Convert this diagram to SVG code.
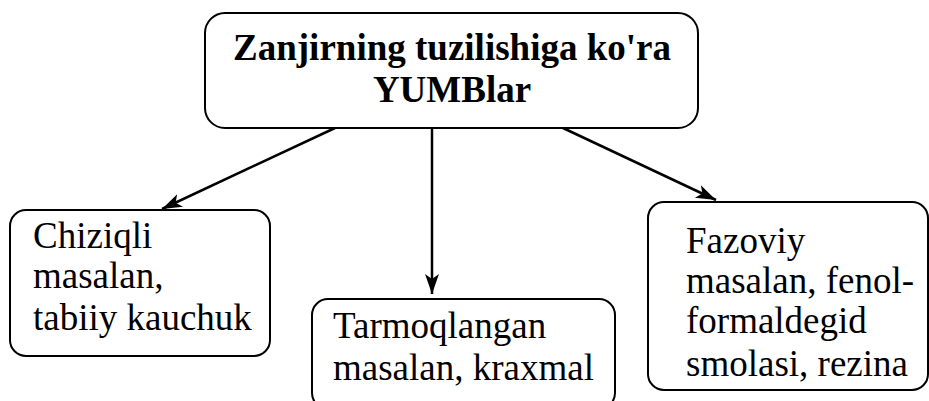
<svg xmlns="http://www.w3.org/2000/svg" width="929" height="401" viewBox="0 0 929 401">
  <style>
    .box { fill: #ffffff; stroke: #000000; stroke-width: 2; }
    .link { fill: none; stroke: #000000; stroke-width: 2.5; marker-end: url(#head); }
    svg g text.yumb-head { font-family: 'Liberation Serif', 'Times New Roman', serif !important; font-size: 37px; font-weight: bold; fill: #000; text-anchor: middle; }
    svg g text.yumb-text { font-family: 'Liberation Serif', 'Times New Roman', serif !important; font-size: 37px; font-weight: normal; fill: #000; }
  </style>
  <defs>
    <marker id="head" markerUnits="userSpaceOnUse" markerWidth="22" markerHeight="16" refX="20" refY="7" orient="auto">
      <path d="M0,0 L20,7 L0,14 L5,7 Z" fill="#000000"/>
    </marker>
  </defs>
  <rect width="929" height="401" fill="#ffffff"/>

  <!-- connectors -->
  <g id="connectors">
    <line class="link" x1="335" y1="128" x2="162" y2="209"/>
    <line class="link" x1="432" y1="128" x2="432" y2="294"/>
    <line class="link" x1="563" y1="128" x2="716" y2="200"/>
  </g>

  <!-- root node -->
  <g id="root">
    <rect class="box" x="205" y="13" width="493" height="115" rx="20" ry="20"/>
    <text class="yumb-head" x="452" y="60" style="font-family:'Liberation Serif', serif">Zanjirning tuzilishiga ko'ra</text>
    <text class="yumb-head" x="452" y="102" style="font-family:'Liberation Serif', serif">YUMBlar</text>
  </g>

  <!-- linear -->
  <g id="linear">
    <rect class="box" x="10" y="210" width="260" height="146" rx="16" ry="16"/>
    <text class="yumb-text" x="33" y="248" style="font-family:'Liberation Serif', serif">Chiziqli</text>
    <text class="yumb-text" x="33" y="288" style="font-family:'Liberation Serif', serif">masalan,</text>
    <text class="yumb-text" x="33" y="330" style="font-family:'Liberation Serif', serif">tabiiy kauchuk</text>
  </g>

  <!-- branched -->
  <g id="branched">
    <rect class="box" x="312" y="299" width="303" height="110" rx="16" ry="16"/>
    <text class="yumb-text" x="333" y="338" style="font-family:'Liberation Serif', serif">Tarmoqlangan</text>
    <text class="yumb-text" x="333" y="380" style="font-family:'Liberation Serif', serif">masalan, kraxmal</text>
  </g>

  <!-- network -->
  <g id="network">
    <rect class="box" x="648" y="202" width="280" height="188" rx="16" ry="16"/>
    <text class="yumb-text" x="686" y="253" style="font-family:'Liberation Serif', serif">Fazoviy</text>
    <text class="yumb-text" x="686" y="293" style="font-family:'Liberation Serif', serif">masalan, fenol-</text>
    <text class="yumb-text" x="686" y="333" style="font-family:'Liberation Serif', serif">formaldegid</text>
    <text class="yumb-text" x="686" y="376" style="font-family:'Liberation Serif', serif">smolasi, rezina</text>
  </g>
</svg>
